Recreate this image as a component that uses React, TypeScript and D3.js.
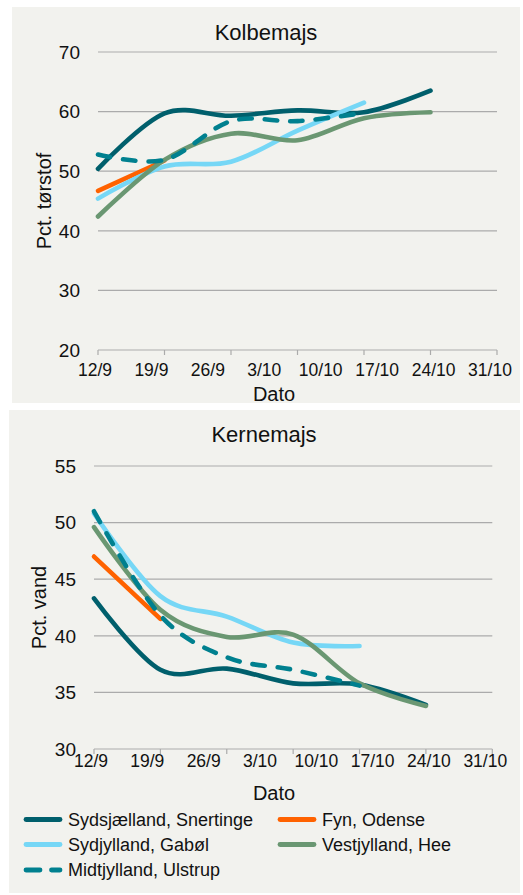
import React from 'react';
import * as d3 from 'd3';

const dateLabels = ['12/9', '19/9', '26/9', '3/10', '10/10', '17/10', '24/10', '31/10'];
const sampleDays = [0, 7, 14, 21, 28, 35];
const tickDays = [0, 7, 14, 21, 28, 35, 42];

const seriesNames = ['Sydsjælland, Snertinge', 'Fyn, Odense', 'Sydjylland, Gabøl', 'Vestjylland, Hee', 'Midtjylland, Ulstrup'];
const seriesColors = ['#005f6c', '#ff6200', '#76d7f6', '#6a9772', '#00808f'];
const seriesDashed = [false, false, false, false, true];

// Kolbemajs – pct. tørstof
const kolbeSydsjaelland = [50.4, 59.7, 59.3, 60.2, 59.9, 63.5];
const kolbeFyn = [46.7, 51.8];
const kolbeSydjylland = [45.4, 50.8, 51.6, 56.8, 61.5];
const kolbeVestjylland = [42.4, 51.9, 56.3, 55.2, 58.9, 59.9];
const kolbeMidtjylland = [52.8, 51.9, 58.4, 58.4, 59.8];

// Kernemajs – pct. vand
const kerneSydsjaelland = [43.3, 37.0, 37.1, 35.8, 35.7, 33.9];
const kerneFyn = [47.0, 41.5];
const kerneSydjylland = [50.8, 43.5, 41.7, 39.4, 39.1];
const kerneVestjylland = [49.6, 42.3, 39.9, 40.1, 35.8, 33.8];
const kerneMidtjylland = [51.0, 41.8, 38.1, 37.0, 35.6];

const kolbeTicks = [20, 30, 40, 50, 60, 70];
const kerneTicks = [30, 35, 40, 45, 50, 55];

const FONT = '"Liberation Sans", Arial, sans-serif';
const BG = '#f2f2ee';
const GRID = '#ababab';

type PanelProps = {
  title: string;
  yTitle: string;
  series: number[][];
  yTicks: number[];
  left: number;
  right: number;
  top: number;
  bottom: number;
  titleY: number;
  titleX: number;
  yTitleX: number;
  xLabelDy: number;
  datoY: number;
};

function Panel(p: PanelProps) {
  const x = d3.scaleLinear().domain([tickDays[0], tickDays[tickDays.length - 1]]).range([p.left, p.right]);
  const y = d3.scaleLinear().domain([p.yTicks[0], p.yTicks[p.yTicks.length - 1]]).range([p.bottom, p.top]);
  const labelX = d3.scalePoint<string>().domain(dateLabels).range([p.left - 3, p.right - 7]);
  const line = d3
    .line<number>()
    .x((_, i) => x(sampleDays[i]))
    .y((d) => y(d))
    .curve(d3.curveCardinal.tension(0));
  const order = [0, 1, 2, 3, 4];
  return (
    <g>
      <text x={p.titleX} y={p.titleY} textAnchor="middle" fontSize={22} fill="#111">
        {p.title}
      </text>
      {p.yTicks.map((t, i) => (
        <g key={t}>
          <line x1={p.left} x2={p.right} y1={y(t)} y2={y(t)} stroke={GRID} strokeWidth={1.2} />
          <text x={p.left - 18} y={y(t)} dy="0.36em" textAnchor="end" fontSize={19} fill="#111">
            {t}
          </text>
        </g>
      ))}
      {tickDays.map((d) => (
        <line key={d} x1={x(d)} x2={x(d)} y1={p.bottom} y2={p.bottom + 5} stroke={GRID} strokeWidth={1.2} />
      ))}
      {dateLabels.map((l) => (
        <text key={l} x={labelX(l)} y={p.bottom + p.xLabelDy} textAnchor="middle" fontSize={17.5} fill="#111">
          {l}
        </text>
      ))}
      <text x={274} y={p.datoY} textAnchor="middle" fontSize={20} fill="#111">
        Dato
      </text>
      <text
        transform={`translate(${p.yTitleX},${(p.top + p.bottom) / 2}) rotate(-90)`}
        textAnchor="middle"
        fontSize={20}
        fill="#111"
      >
        {p.yTitle}
      </text>
      {order.map((i) => (
        <path
          key={i}
          d={line(p.series[i]) || ''}
          fill="none"
          stroke={seriesColors[i]}
          strokeWidth={4.6}
          strokeLinecap="round"
          strokeLinejoin="round"
          strokeDasharray={seriesDashed[i] ? '12.5,13' : undefined}
        />
      ))}
    </g>
  );
}

export default function App() {
  const legendCols = [26, 280];
  const legendRows = [819.5, 844.5, 870];
  return (
    <svg
      width={523}
      height={895}
      style={{ position: 'absolute', left: 0, top: 0, background: '#fff' }}
      fontFamily={FONT}
    >
      <rect x={12} y={7} width={508} height={396} fill={BG} />
      <rect x={9} y={410} width={511} height={483} fill={BG} />
      <Panel
        title="Kolbemajs"
        yTitle="Pct. tørstof"
        series={[kolbeSydsjaelland, kolbeFyn, kolbeSydjylland, kolbeVestjylland, kolbeMidtjylland]}
        yTicks={kolbeTicks}
        left={98}
        right={497}
        top={52}
        bottom={350}
        titleX={266}
        titleY={39.5}
        yTitleX={51}
        xLabelDy={26}
        datoY={401}
      />
      <Panel
        title="Kernemajs"
        yTitle="Pct. vand"
        series={[kerneSydsjaelland, kerneFyn, kerneSydjylland, kerneVestjylland, kerneMidtjylland]}
        yTicks={kerneTicks}
        left={94}
        right={492.3}
        top={466}
        bottom={749}
        titleX={264}
        titleY={441.5}
        yTitleX={46}
        xLabelDy={17.5}
        datoY={800}
      />
      {seriesNames.map((name, i) => {
        const cx = legendCols[i % 2];
        const cy = legendRows[Math.floor(i / 2)];
        return (
          <g key={name}>
            <line
              x1={cx}
              x2={cx + 34}
              y1={cy}
              y2={cy}
              stroke={seriesColors[i]}
              strokeWidth={4.8}
              strokeLinecap="round"
              strokeDasharray={seriesDashed[i] ? '14,11.5' : undefined}
            />
            <text x={cx + 42} y={cy} dy="0.35em" fontSize={18} fill="#111">
              {name}
            </text>
          </g>
        );
      })}
    </svg>
  );
}
